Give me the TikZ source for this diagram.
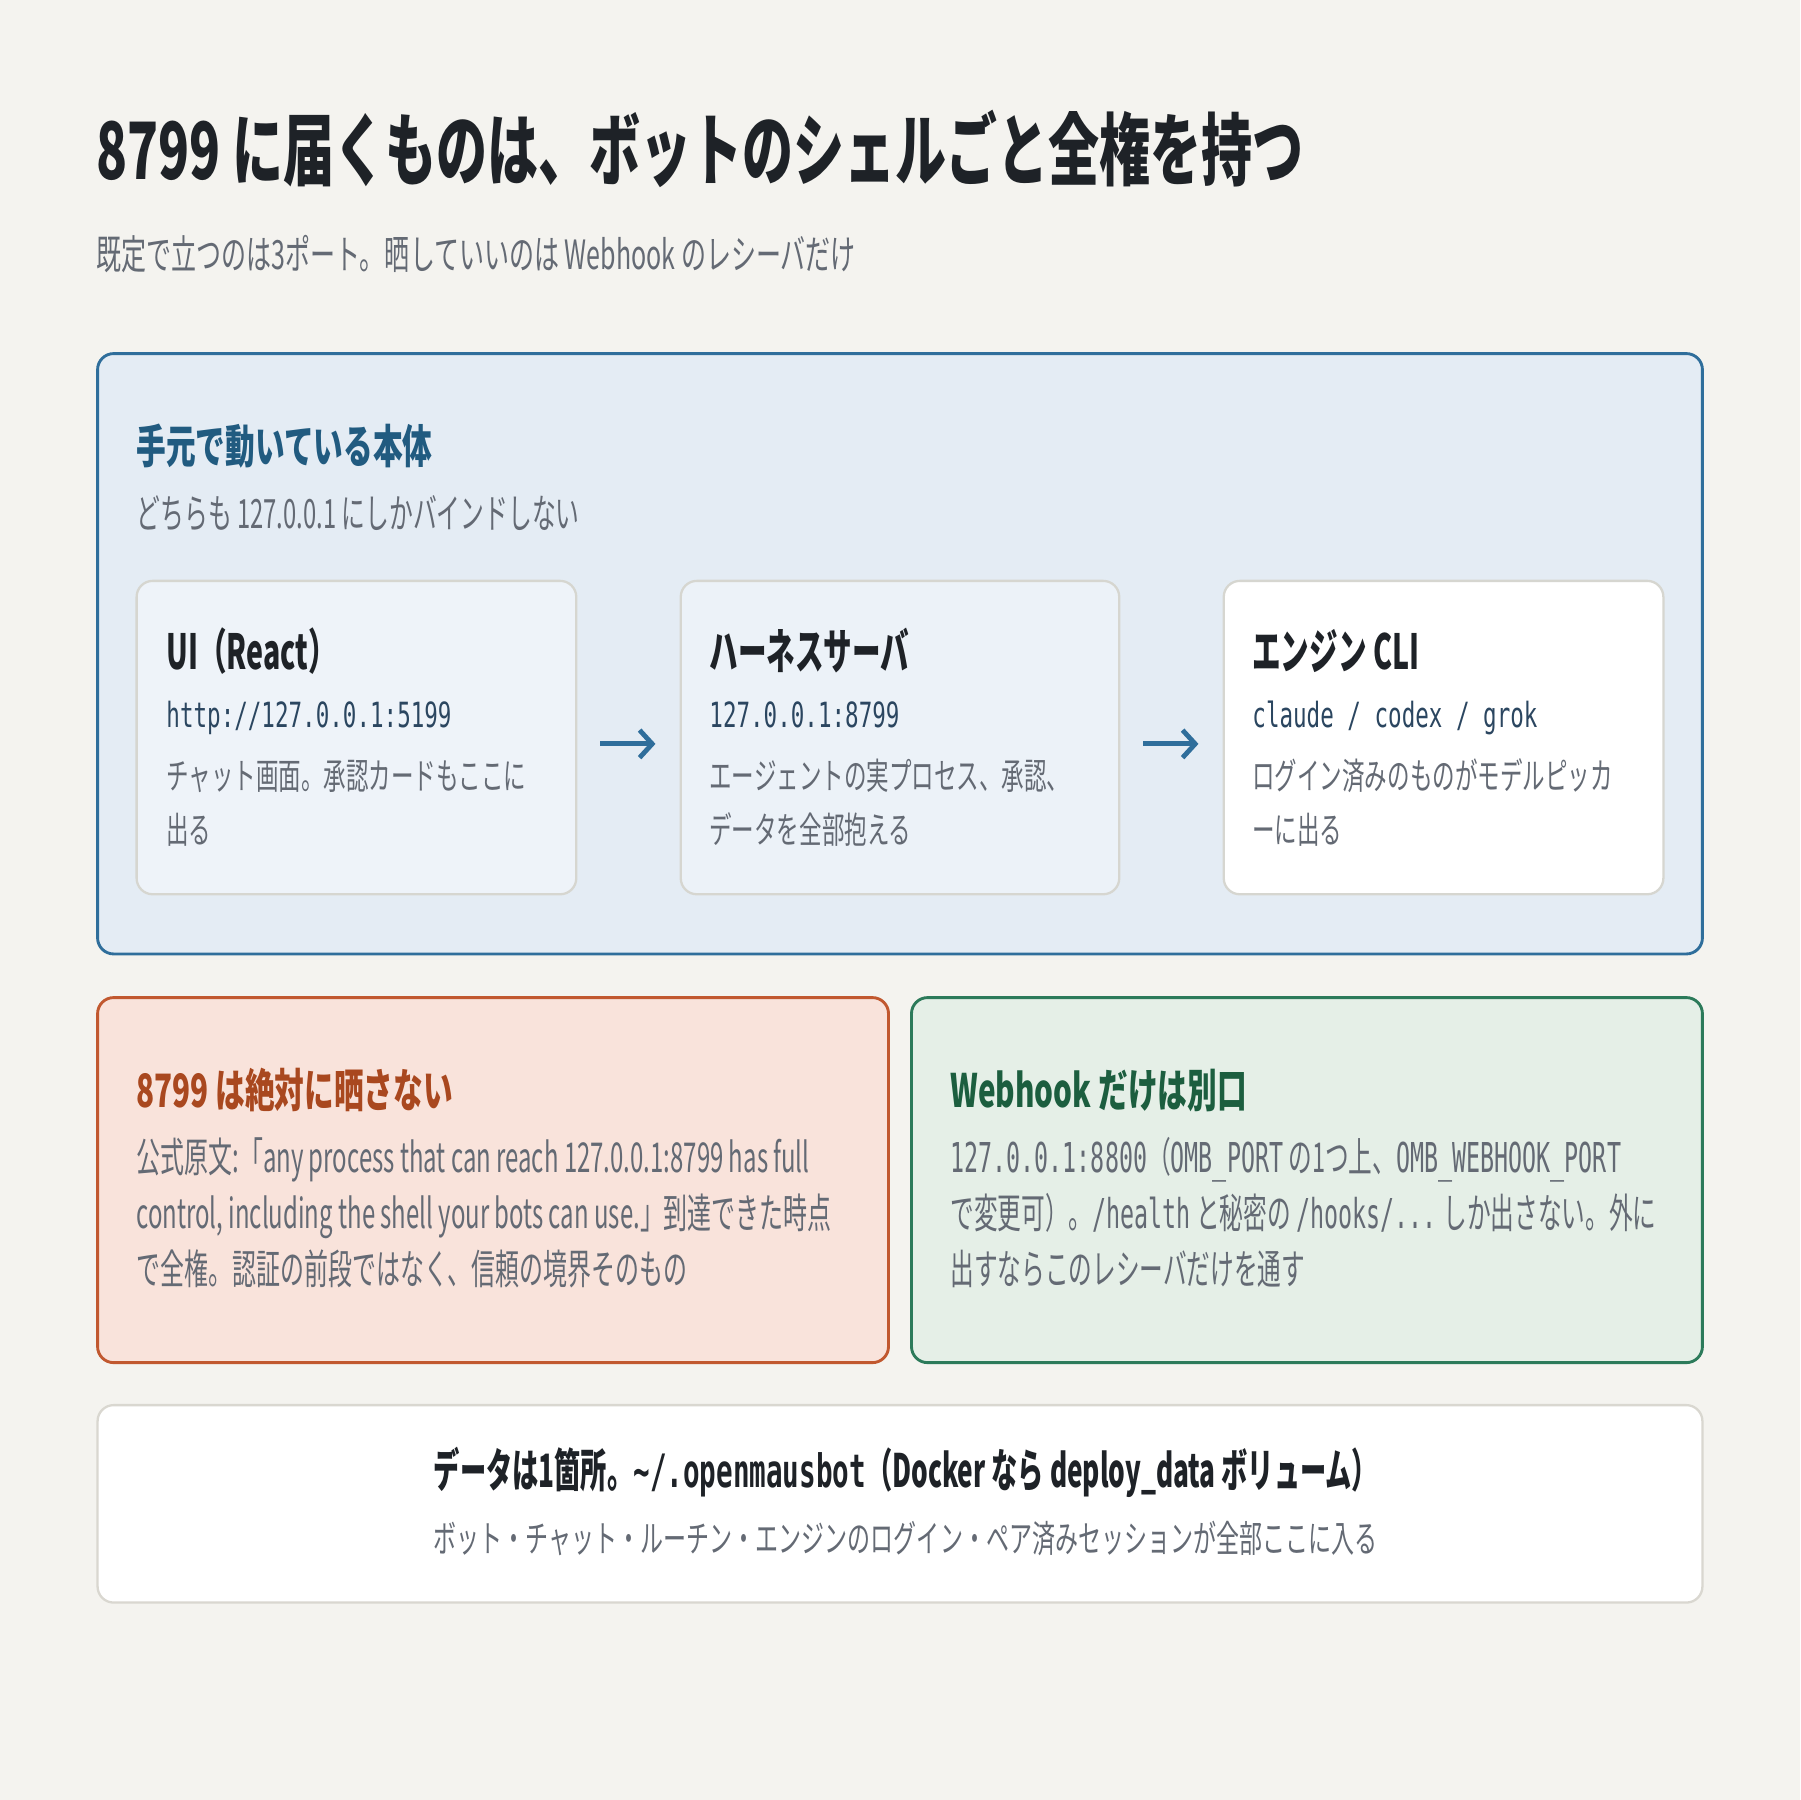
\documentclass[tikz,border=0pt]{standalone}
\usepackage{fontspec}
\setmainfont{Noto Sans CJK JP}[FakeStretch=0.62]
\newfontfamily\hfam{Noto Sans CJK JP}[FakeStretch=0.645]
\newfontfamily\nfam{Noto Sans CJK JP}[FakeStretch=0.59]
\newfontfamily\rfam{Noto Sans CJK JP}[FakeStretch=0.582]
\newfontfamily\gfam{Noto Sans CJK JP}[FakeStretch=0.575]
\newfontfamily\bfam{Noto Sans CJK JP}[FakeStretch=0.57]
\newfontfamily\monof{DejaVu Sans Mono}[FakeStretch=0.65]
\newfontfamily\monog{DejaVu Sans Mono}[FakeStretch=0.567]
\newfontfamily\monob{DejaVu Sans Mono}[FakeStretch=0.6]
\usetikzlibrary{arrows.meta,fit}
\definecolor{bg}{HTML}{F4F3EF}
\definecolor{ink}{HTML}{1E2227}
\definecolor{mute}{HTML}{646A74}
\definecolor{bluebd}{HTML}{2F6E9B}
\definecolor{bluefill}{HTML}{E4ECF4}
\definecolor{bluehd}{HTML}{215B80}
\definecolor{cardfill}{HTML}{EEF3F9}
\definecolor{cardbd}{HTML}{D6D6D0}
\definecolor{code}{HTML}{2B4660}
\definecolor{redbd}{HTML}{C1582F}
\definecolor{redfill}{HTML}{F9E3DB}
\definecolor{redhd}{HTML}{A9481F}
\definecolor{grnbd}{HTML}{2C7A5A}
\definecolor{grnfill}{HTML}{E5EFE7}
\definecolor{grnhd}{HTML}{1C5E3F}
\definecolor{botbd}{HTML}{D9D7D0}
\tikzset{
  txt/.style={anchor=base west, inner sep=0pt, outer sep=0pt},
  titlef/.style={txt, text=ink, font=\fontsize{19.6pt}{22pt}\selectfont\hfam\bfseries},
  subf/.style={txt, text=mute, font=\fontsize{10pt}{12pt}\selectfont},
  headf/.style={txt, font=\fontsize{11.4pt}{13pt}\selectfont\hfam\bfseries},
  cardt/.style={txt, text=ink, font=\fontsize{12pt}{14pt}\selectfont\nfam\bfseries},
  cardc/.style={txt, text=code, font=\fontsize{8.6pt}{10pt}\selectfont\monof},
  cardd/.style={txt, text=mute, font=\fontsize{9pt}{10pt}\selectfont},
  redbody/.style={txt, text=mute, font=\fontsize{10.2pt}{12pt}\selectfont\rfam},
  grnbody/.style={txt, text=mute, font=\fontsize{10.2pt}{12pt}\selectfont\gfam},
  boxbase/.style={inner sep=0pt, rounded corners=1.4mm},
  card/.style={boxbase, draw=cardbd, line width=0.2mm, fill=cardfill},
  arr/.style={draw=bluebd, line width=0.42mm, -{Straight Barb[length=1.1mm, width=2.4mm, line width=0.42mm]}},
}
\begin{document}
\begin{tikzpicture}[x=0.1mm,y=-0.1mm]
\useasboundingbox[fill=bg] (0,0) rectangle (1568,1568);

% title
\node[titlef] (title) at (84,156) {8799 に届くものは、ボットのシェルごと全権を持つ};
\node[subf] (sub) at (84,235) {既定で立つのは3ポート。晒していいのは Webhook のレシーバだけ};

% main blue box
\node[boxbase, draw=bluebd, line width=0.25mm, fill=bluefill, fit={(85,308) (1483,831)}] (main) {};
\node[headf, text=bluehd] (mainh) at (119,404) {手元で動いている本体};
\node[subf, font=\fontsize{10pt}{12pt}\selectfont\nfam] (mains) at (119,460) {どちらも 127.0.0.1 にしかバインドしない};

% cards
\node[card, fit={(119,506) (502,779)}] (c1) {};
\node[card, fill=cardfill!85!bluefill, fit={(593,506) (975,779)}] (c2) {};
\node[card, fill=white, fit={(1066,506) (1449,779)}] (c3) {};

\node[cardt] (c1t) at (145,583) {UI（React）};
\node[cardc] (c1c) at (145,634) {http://127.0.0.1:5199};
\node[cardd] (c1d1) at (145,688) {チャット画面。承認カードもここに};
\node[cardd] (c1d2) at (145,735) {出る};

\node[cardt] (c2t) at (618,583) {ハーネスサーバ};
\node[cardc] (c2c) at (618,634) {127.0.0.1:8799};
\node[cardd] (c2d1) at (618,688) {エージェントの実プロセス、承認、};
\node[cardd] (c2d2) at (618,735) {データを全部抱える};

\node[cardt] (c3t) at (1091,583) {エンジン CLI};
\node[cardc] (c3c) at (1091,634) {claude / codex / grok};
\node[cardd] (c3d1) at (1091,688) {ログイン済みのものがモデルピッカ};
\node[cardd] (c3d2) at (1091,735) {ーに出る};

\draw[arr, shorten <=2mm, shorten >=2.1mm] ([yshift=-0.55mm]c1.east) -- ([yshift=-0.55mm]c2.west);
\draw[arr, shorten <=2mm, shorten >=2.1mm] ([yshift=-0.55mm]c2.east) -- ([yshift=-0.55mm]c3.west);

% red box
\node[boxbase, draw=redbd, line width=0.25mm, fill=redfill, fit={(85,869) (774,1187)}] (red) {};
\node[headf, text=redhd] (redh) at (119,965) {8799 は絶対に晒さない};
\node[redbody] (red1) at (119,1021) {公式原文:「any process that can reach 127.0.0.1:8799 has full};
\node[redbody] (red2) at (119,1070) {control, including the shell your bots can use.」到達できた時点};
\node[redbody] (red3) at (119,1119) {で全権。認証の前段ではなく、信頼の境界そのもの};

% green box
\node[boxbase, draw=grnbd, line width=0.25mm, fill=grnfill, fit={(794,869) (1483,1187)}] (grn) {};
\node[headf, text=grnhd] (grnh) at (828,965) {Webhook だけは別口};
\node[grnbody] (grn1) at (828,1021) {{\monog 127.0.0.1:8800}（{\monog OMB\_PORT} の1つ上、{\monog OMB\_WEBHOOK\_PORT}};
\node[grnbody] (grn2) at (828,1070) {で変更可）。{\monog /health} と秘密の {\monog /hooks/...} しか出さない。外に};
\node[grnbody] (grn3) at (828,1119) {出すならこのレシーバだけを通す};

% bottom box
\node[boxbase, draw=botbd, line width=0.2mm, fill=white, fit={(85,1224) (1483,1396)}] (bot) {};
\node[txt, font=\fontsize{11.4pt}{13pt}\selectfont\bfam\bfseries, text=ink] (both) at (378,1296) {データは1箇所。{\monob\bfseries \textasciitilde/.openmausbot}（Docker なら deploy\_data ボリューム）};
\node[subf, font=\fontsize{9.2pt}{11pt}\selectfont] (bots) at (378,1352) {ボット・チャット・ルーチン・エンジンのログイン・ペア済みセッションが全部ここに入る};
\end{tikzpicture}
\end{document}
